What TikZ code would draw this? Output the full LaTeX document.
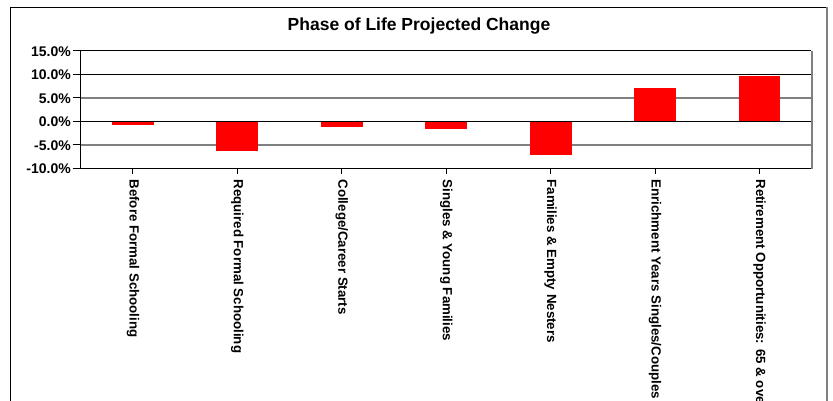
\documentclass[tikz,border=0pt]{standalone}
\usepackage{fontspec}
\setmainfont{Liberation Sans}
\begin{document}
\begin{tikzpicture}[x=1pt,y=-1pt,
  gridblack/.style={draw=black,line width=0.9pt},
  gridgray/.style={draw=black!50,line width=1.4pt},
  barfill/.style={fill=red},
  ylab/.style={anchor=east,inner sep=0pt,font=\fontsize{14}{16}\selectfont\bfseries},
  xlab/.style={anchor=west,rotate=-90,inner sep=0pt,font=\fontsize{13.3}{16}\selectfont\bfseries},
  ttl/.style={anchor=base,inner sep=0pt,font=\fontsize{17.5}{20}\selectfont\bfseries}]
\useasboundingbox (0,0) rectangle (833,400);
\fill[white] (0,0) rectangle (833,400);
% outer frame
\draw[black,line width=0.9pt] (10,410) -- (10,7.3) -- (826,7.3);
\draw[black!50,line width=1.8pt] (827,7.3) -- (827,410);
% title
\node[ttl] (title) at (419,30.7) {Phase of Life Projected Change};
% grid lines
\draw[gridblack] (80.7,50.8) -- (811,50.8);
\draw[gridblack] (80.7,74.3) -- (811,74.3);
\draw[gridgray] (80.7,97.8) -- (811,97.8);
\draw[gridgray] (80.7,145.0) -- (811,145.0);
% bars
\foreach \i/\v in {1/-0.72,2/-6.25,3/-1.15,4/-1.57,5/-7.1,6/7.08,7/9.64}{
  \pgfmathsetmacro{\cx}{80.7+104.43*(\i-0.5)}
  \pgfmathsetmacro{\vy}{121.3-4.7*\v}
  \fill[barfill] (\cx-20.9,121.3) rectangle (\cx+20.9,\vy);
}
\draw[gridblack] (80.7,121.3) -- (811,121.3);
% plot frame
\draw[black!50,line width=1.8pt] (812,50.8) -- (812,169.2);
\draw[black,line width=1.1pt] (80.7,50.8) -- (80.7,168.3) -- (811,168.3);
% y ticks and labels
\foreach \v/\t/\n in {15/15.0\%/ya,10/10.0\%/yb,5/5.0\%/yc,0/0.0\%/yd,-5/-5.0\%/ye,-10/-10.0\%/yf}{
  \pgfmathsetmacro{\vy}{121.3-4.7*\v}
  \draw[black,line width=0.9pt] (72.7,\vy) -- (80.7,\vy);
  \node[ylab] (\n) at (71,\vy+0.8) {\t};
}
% x ticks and labels
\foreach \i/\t in {1/{Before Formal Schooling},2/{Required Formal Schooling},3/{College/Career Starts},4/{Singles \& Young Families},5/{Families \& Empty Nesters},6/{Enrichment Years Singles/Couples},7/{Retirement Opportunities: 65 \& over}}{
  \pgfmathsetmacro{\cx}{80.7+104.43*(\i-0.5)}
  \draw[black,line width=0.9pt] (\cx,168.3) -- (\cx,174);
  \node[xlab] (x\i) at (\cx,179.3) {\t};
}
\end{tikzpicture}
\end{document}
